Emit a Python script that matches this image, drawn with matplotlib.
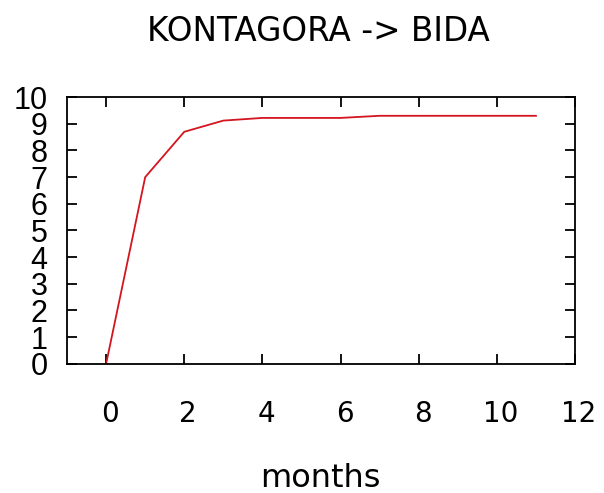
import matplotlib
matplotlib.use('Agg')
import matplotlib.pyplot as plt
import matplotlib.transforms as mtransforms

# data
months = [0, 1, 2, 3, 4, 5, 6, 7, 8, 9, 10, 11]
values = [0, 7.0, 8.7, 9.12, 9.22, 9.22, 9.22, 9.3, 9.3, 9.3, 9.3, 9.3]
x_ticks = [0, 2, 4, 6, 8, 10, 12]
y_ticks = list(range(0, 11))

plt.rcParams['font.family'] = ['Liberation Sans', 'DejaVu Sans']

fig = plt.figure(figsize=(6.04, 4.93), dpi=100)
ax = fig.add_axes([0.111, 0.262, 0.841, 0.541])

ax.plot(months, values, color='#d4141e', lw=1.3)

ax.set_xlim(-1, 12)
ax.set_ylim(0, 10)
ax.set_xticks(x_ticks)
ax.set_yticks(y_ticks)
ax.tick_params(direction='in', top=True, right=True, length=7, width=1.3)
ax.tick_params(axis='x', labelsize=20, pad=26)
ax.tick_params(axis='y', labelsize=22, pad=14)
for s in ax.spines.values():
    s.set_linewidth(1.3)

# x labels sit a little right of their ticks in the reference
shift = mtransforms.ScaledTranslation(4 / 100, 0, fig.dpi_scale_trans)
for lbl in ax.get_xticklabels():
    lbl.set_family('DejaVu Sans')
    lbl.set_transform(lbl.get_transform() + shift)

fig.text(0.527, 0.937, 'KONTAGORA -> BIDA', ha='center', va='center',
         fontsize=23.5, family='DejaVu Sans')
fig.text(0.531, 0.03, 'months', ha='center', va='center',
         fontsize=23, family='DejaVu Sans')

fig.savefig('out.png', dpi=100)
